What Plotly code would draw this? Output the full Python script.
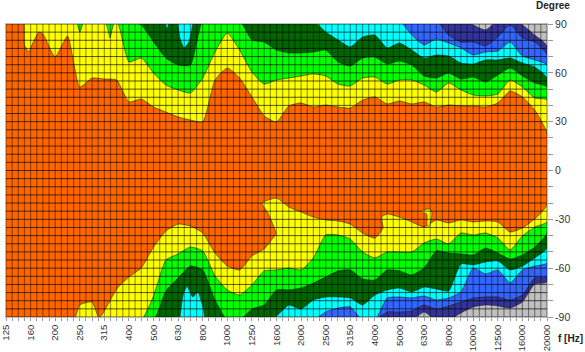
import numpy as np
import plotly.graph_objects as go

FREQ_LABELS = ["125","160","200","250","315","400","500","630","800","1000","1250","1600",
               "2000","2500","3150","4000","5000","6300","8000","10000","12500","16000","20000"]
DEG_LABELS = {90:"90",60:"60",30:"30",0:"0",-30:"-30",-60:"-60",-90:"-90"}

# columns: sixth-octave steps, position measured in third-octave bands from 125 Hz
COLUMNS = [i / 2 for i in range(45)]
U = 92   # contour leaves the chart above +90
D = -92  # contour leaves the chart below -90

ORANGE_TOP = [U,U,75.3,83.9,69.7,82.6,51.3,56.8,56.2,55.6,42.1,43.9,39,35.9,32.9,31,29.8,55.6,63,56.8,45.2,33.5,29.8,39.6,41.5,39,40.2,39,38.4,43.3,45.2,40.9,42.7,40.9,42.1,39,40.2,39.6,39.6,39,41.5,48.8,45.2,37.2,23]
YELLOW_TOP = [U]*10 + [66.7,69.1,59.9,52.5,49.5,47.6,56.8,72.8,84.5,74,60.5,53.1,55.6,56.8,58.1,59.3,58.1,53.1,51.9,56.8,57.4,53.1,55.6,55.6,52.5,48.2,53.8,49.5,46.4,45.8,47,55.6,51.3,44.5,43.3]
GREEN_TOP = [U]*11 + [89.4,78.9,69.1,64.8,64.8,U,U,U,U,80.2,78.9,74,72.2,72.2,72.8,74,66.7,64.2,69.1,69.7,65.4,67.3,64.8,58.1,56.8,59.9,56.2,57.4,54.4,58.7,63,58.1,53.8,51.3]
DKGREEN_TOP = [U]*26 + [85.1,80.2,75.9,82,83.2,75.3,78.3,74,69.1,71,70.3,66,65.4,67.9,67.9,69.1,66,63.6,56.8]
CYAN_TOP = [U]*33 + [83.2,77.1,80.8,78.3,75.3,71,72.8,73.4,78.9,70.3,67.9,64.8]
BLUE_TOP = [U]*36 + [83.2,78.9,78.9,76.5,82,89.4,81.4,78.9,71]
NAVY_TOP = [U]*38 + [89.4,86.3,U,U,89.4,83.2,76.5]

ORANGE_BOTTOM = [D]*6 + [-82.6,-80.8,-86.3,-72.8,-65.4,-59.9,-47,-37.2,-32.9,-34.1,-38.4,-50.7,-58.7,-61.1,-52.5,-48.2,-16.9,-22.4,-25.5,-28.6,-30.4,-31,-32.9,-38.4,-41.5,-26.7,-28.6,-31.6,-34.7,-30.4,-32.2,-30.4,-31.6,-31,-31.6,-37.8,-35.3,-29.8,-21.2]
YELLOW_BOTTOM = [D]*12 + [-77.1,-55,-51.3,-47,-49.4,-64.8,-73.4,-76.5,-70.3,-61.7,-61.1,-59.9,-61.1,-53.7,-39.6,-39.6,-42.1,-50.1,-53.7,-50.1,-50.1,-50.1,-44.5,-42.1,-45.1,-38.4,-39.6,-38.4,-41.5,-48.8,-40.2,-34.7,-31.6]
GREEN_BOTTOM = [D]*13 + [-74,-66,-58.7,-61.1,-79.5,D,D,-85.1,-82.6,-73.4,-73.4,-72.2,-69.1,-65.4,-61.7,-61.1,-66.6,-67.3,-61.1,-61.7,-64.2,-59.9,-49.4,-50.7,-51.3,-51.9,-47.6,-50.7,-54.4,-51.9,-47,-38.4]
DKGREEN_BOTTOM = [D]*22 + [-89.4,-82.6,-85.1,-79.5,-77.7,-77.7,-78.3,-82.6,-76.5,-73.4,-72.2,-74.6,-71.6,-72.8,-74,-57.4,-58,-56.2,-55.6,-61.1,-58.7,-53.7,-47.6]
CYAN_BOTTOM = [D]*26 + [-86.9,-84.5,-83.8,D,D,-78.3,-77.7,-78.3,-77.1,-79.5,-78.3,-74.6,-59.9,-63.6,-61.1,-69.1,-61.1,-58.7,-56.8]
BLUE_BOTTOM = [D]*31 + [-86.9,-86.9,-86.3,-82.6,-85.1,-83.2,-80.8,-78.3,-77.7,-77.7,-79.5,-76.5,-66,-65.4]
NAVY_BOTTOM = [D]*34 + [-87,D,D,-87.5,-83.8,-82.6,-83.2,-84.5,-80.8,-69.7,-68.5]

# extra vertices of the orange outline that fall between columns
ORANGE_TOP_EXTRA_X = [0.71,0.75,0.93,1.34]
ORANGE_TOP_EXTRA_Y = [90.6,77.1,72.8,85.1]
ORANGE_BOTTOM_HUMP_X = [2.8, 3.78]
ORANGE_BOTTOM_HUMP_Y = [-90.6, -90.6]
TONGUE_X = [10.81,10.98,10.65,10.41]
TONGUE_Y = [-42.4,-38.9,-26.1,-20]
NOTCH_X = [15.33,15.28]
NOTCH_Y = [-35.3,-28.6]

# small separate patches
CYAN_PEAK_A_X = [6.99,7.07,7.24,7.44,7.6]
CYAN_PEAK_A_Y = [90.6,81.4,75.3,78.9,90.6]
CYAN_PEAK_B_X = [6.46,6.54,6.63]
CYAN_PEAK_B_Y = [90.6,86.9,90.6]
CYAN_LOW_X = [7.07,7.2,7.36,7.48,7.6,7.8,8.01,8.09]
CYAN_LOW_Y = [-90.6,-76.5,-71,-74.6,-77.7,-74.6,-83.8,-90.6]
GREEN_PEAK_A_X = [2.89,3.0,3.13]
GREEN_PEAK_A_Y = [90.6,85.1,90.6]
GREEN_PEAK_B_X = [4.07,4.15,4.23,4.31,4.39]
GREEN_PEAK_B_Y = [90.6,86.3,81.4,86.3,90.6]
YELLOW_BLOB_X = [16.95,17.24,17.32,17.22,17.13,17.11,16.95]
YELLOW_BLOB_Y = [-24.3,-23.6,-26.1,-34.1,-34.1,-26.7,-26.1]

ORANGE = "#FF6600"; YELLOW = "#FFFF00"; GREEN = "#00FF00"; DKGREEN = "#006600"
CYAN = "#00FFFF"; BLUE = "#3366FF"; NAVY = "#333399"; GREY = "#C0C0C0"
EDGE = "rgba(30,30,30,0.7)"

fig = go.Figure()

def patch(x, y, color):
    fig.add_trace(go.Scatter(x=x, y=y, mode="lines", fill="toself", fillcolor=color,
                             line=dict(color=EDGE, width=0.8, shape="spline", smoothing=0.5),
                             hoverinfo="skip", showlegend=False))

def band(top, bottom, color):
    patch(COLUMNS + COLUMNS[::-1], top + bottom[::-1], color)

band(NAVY_TOP, NAVY_BOTTOM, NAVY)
band(BLUE_TOP, BLUE_BOTTOM, BLUE)
band(CYAN_TOP, CYAN_BOTTOM, CYAN)
band(DKGREEN_TOP, DKGREEN_BOTTOM, DKGREEN)
patch(CYAN_PEAK_A_X, CYAN_PEAK_A_Y, CYAN)
patch(CYAN_PEAK_B_X, CYAN_PEAK_B_Y, CYAN)
patch(CYAN_LOW_X, CYAN_LOW_Y, CYAN)
band(GREEN_TOP, GREEN_BOTTOM, GREEN)
band(YELLOW_TOP, YELLOW_BOTTOM, YELLOW)
patch(GREEN_PEAK_A_X, GREEN_PEAK_A_Y, GREEN)
patch(GREEN_PEAK_B_X, GREEN_PEAK_B_Y, GREEN)

top_pairs = sorted(zip(COLUMNS + ORANGE_TOP_EXTRA_X, ORANGE_TOP + ORANGE_TOP_EXTRA_Y))
otx = [p[0] for p in top_pairs]; oty = [p[1] for p in top_pairs]
obx = (COLUMNS[:6] + ORANGE_BOTTOM_HUMP_X[:1] + COLUMNS[6:8] + ORANGE_BOTTOM_HUMP_X[1:] + COLUMNS[8:22]
       + TONGUE_X + COLUMNS[22:31] + NOTCH_X + COLUMNS[31:])
oby = (ORANGE_BOTTOM[:6] + ORANGE_BOTTOM_HUMP_Y[:1] + ORANGE_BOTTOM[6:8] + ORANGE_BOTTOM_HUMP_Y[1:] + ORANGE_BOTTOM[8:22]
       + TONGUE_Y + ORANGE_BOTTOM[22:31] + NOTCH_Y + ORANGE_BOTTOM[31:])
patch(otx + obx[::-1], oty + oby[::-1], ORANGE)
patch(YELLOW_BLOB_X, YELLOW_BLOB_Y, YELLOW)

# grid lies above the coloured bands
vx = []; vy = []
for u in np.arange(0, 22.01, 0.25):
    vx += [u, u, None]; vy += [-90, 90, None]
fig.add_trace(go.Scatter(x=vx, y=vy, mode="lines", line=dict(color="rgba(0,0,0,0.4)", width=1.2),
                         hoverinfo="skip", showlegend=False))
hx = []; hy = []
for d in range(-90, 91, 5):
    hx += [0, 22, None]; hy += [d, d, None]
fig.add_trace(go.Scatter(x=hx, y=hy, mode="lines", line=dict(color="rgba(0,0,0,0.65)", width=1),
                         hoverinfo="skip", showlegend=False))

xt = [i / 4 for i in range(89)]
xl = [FREQ_LABELS[i // 4] if i % 4 == 0 else "" for i in range(89)]
yt = list(range(-90, 91, 10))
yl = [DEG_LABELS.get(d, "") for d in yt]

FONT = "Liberation Sans, Arial, sans-serif"
fig.update_layout(
    width=585, height=352, margin=dict(l=6, r=38, t=24, b=35, autoexpand=False),
    paper_bgcolor="white", plot_bgcolor=GREY, showlegend=False,
    font=dict(family=FONT, color="#333333"),
    xaxis=dict(range=[0, 22], tickmode="array", tickvals=xt, ticktext=xl, tickangle=-90,
               ticks="outside", ticklen=3, tickcolor="#999999", tickwidth=1,
               tickfont=dict(size=9.5, color="#333333"), showgrid=False, zeroline=False,
               showline=True, linecolor="#BBBBBB", linewidth=1, mirror=True),
    yaxis=dict(range=[-90, 90], side="right", tickmode="array", tickvals=yt, ticktext=yl,
               ticks="outside", ticklen=5, tickcolor="#999999", tickwidth=1,
               tickfont=dict(size=10.5, color="#333333"), showgrid=False, zeroline=False,
               showline=True, linecolor="#BBBBBB", linewidth=1, mirror=True),
    annotations=[
        dict(text="<b>Degree</b>", xref="paper", yref="paper", x=1.011, y=1.0615, xanchor="center",
             yanchor="middle", showarrow=False, font=dict(size=10, color="#222222", family=FONT)),
        dict(text="<b>f [Hz]</b>", xref="paper", yref="paper", x=1.044, y=-0.072, xanchor="center",
             yanchor="middle", showarrow=False, font=dict(size=10, color="#222222", family=FONT)),
    ],
)
fig.write_html("out.html", config={"displayModeBar": False},
               post_script="document.body.style.margin='0';document.body.style.overflow='hidden';")
